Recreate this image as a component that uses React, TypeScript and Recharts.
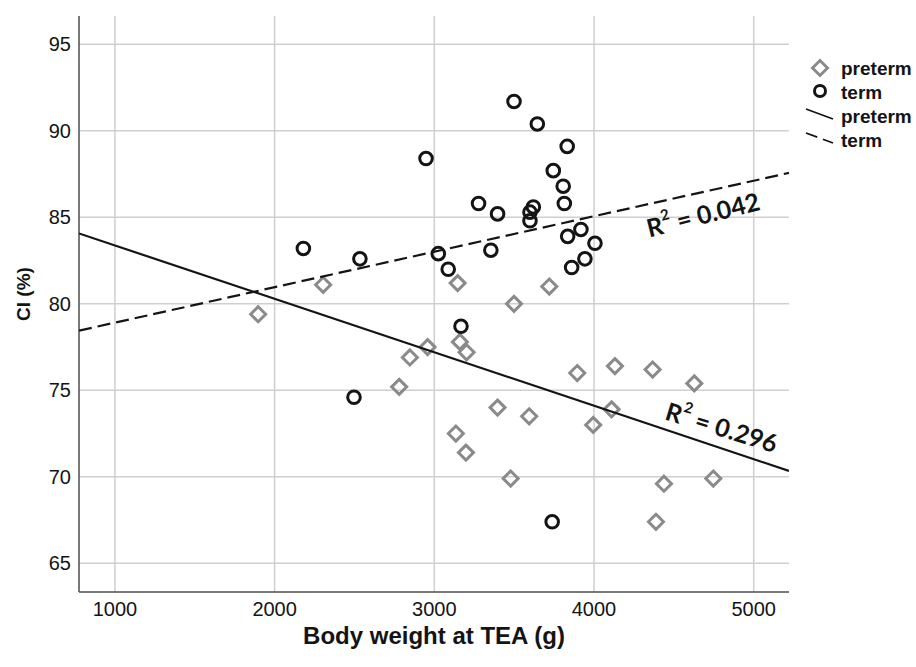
import React from 'react';
import {
  ScatterChart,
  Scatter,
  XAxis,
  YAxis,
  ReferenceLine,
  ReferenceDot
} from 'recharts';

// Body weight at TEA (g) and CI (%)
const pretermWeight = [1897, 2304, 3146, 3499, 3720, 2958, 2847, 3160, 3202, 2780, 3895, 4131, 3396, 3594, 4110, 3995, 3135, 3198, 3478, 4367, 4628, 4438, 4747, 4388];
const pretermCI = [79.4, 81.1, 81.2, 80.0, 81.0, 77.5, 76.9, 77.8, 77.2, 75.2, 76.0, 76.4, 74.0, 73.5, 73.9, 73.0, 72.5, 71.4, 69.9, 76.2, 75.4, 69.6, 69.9, 67.4];

const termWeight = [2180, 2534, 2948, 3499, 3645, 3832, 3745, 3807, 3814, 3277, 3396, 3620, 3599, 3599, 3918, 3835, 4006, 3943, 3860, 3354, 3025, 3087, 3167, 2497, 3738];
const termCI = [83.2, 82.6, 88.4, 91.7, 90.4, 89.1, 87.7, 86.8, 85.8, 85.8, 85.2, 85.6, 85.3, 84.8, 84.3, 83.9, 83.5, 82.6, 82.1, 83.1, 82.9, 82.0, 78.7, 74.6, 67.4];

// linear fit lines, end points at the plot edges
const fitWeight = [775, 5221];
const pretermFitCI = [84.07, 70.34];
const termFitCI = [78.45, 87.57];

const xTicks = [1000, 2000, 3000, 4000, 5000];
const yTicks = [65, 70, 75, 80, 85, 90, 95];

const legendItems = [
  { label: 'preterm', kind: 'diamond' },
  { label: 'term', kind: 'circle' },
  { label: 'preterm', kind: 'solid' },
  { label: 'term', kind: 'dashed' }
];

const toPoints = (xs: number[], ys: number[]) => xs.map((x, i) => ({ x, y: ys[i] }));

const pretermData = toPoints(pretermWeight, pretermCI);
const termData = toPoints(termWeight, termCI);
const pretermFit = toPoints(fitWeight, pretermFitCI);
const termFit = toPoints(fitWeight, termFitCI);

const GREY = '#8a8a8a';
const INK = '#141414';
const GRID = '#cfcfcf';
const AXIS_FONT = '"Liberation Sans", Arial, sans-serif';

const Diamond = (props: any) => {
  const { cx, cy } = props;
  const s = 7.5;
  return (
    <polygon
      points={`${cx},${cy - s} ${cx + s},${cy} ${cx},${cy + s} ${cx - s},${cy}`}
      fill="none"
      stroke={GREY}
      strokeWidth={3}
    />
  );
};

const Ring = (props: any) => (
  <circle cx={props.cx} cy={props.cy} r={6.3} fill="none" stroke={INK} strokeWidth={3} />
);

const NoDot = () => <g />;

const RLabel = ({ cx, cy, angle, text }: any) => (
  <text
    x={cx}
    y={cy}
    transform={`rotate(${angle} ${cx} ${cy})`}
    textAnchor="middle"
    dominantBaseline="central"
    fontFamily="Lato, 'Open Sans', sans-serif"
    fontWeight={700}
    fontSize={25}
    fill={INK}
  >
    R<tspan dy={-9} fontSize={15}>2</tspan>
    <tspan dy={9}>{' = ' + text}</tspan>
  </text>
);

const LegendBox = () => (
  <svg width={116} height={110} style={{ position: 'absolute', left: 800, top: 52 }}>
    {legendItems.map((item, i) => {
      const y = 16 + i * 24;
      let symbol: React.ReactNode = null;
      if (item.kind === 'diamond') symbol = <Diamond cx={20} cy={y} />;
      if (item.kind === 'circle') symbol = <circle cx={20} cy={y - 1} r={5.5} fill="none" stroke={INK} strokeWidth={3} />;
      if (item.kind === 'solid') symbol = <line x1={6} y1={y - 7} x2={33} y2={y + 3} stroke={INK} strokeWidth={1.8} />;
      if (item.kind === 'dashed') symbol = <line x1={6} y1={y - 7} x2={33} y2={y + 3} stroke={INK} strokeWidth={1.8} strokeDasharray="12 6" />;
      return (
        <g key={i}>
          {symbol}
          <text x={41} y={y} dominantBaseline="central" fontFamily={AXIS_FONT} fontWeight={700} fontSize={19} fill={INK}>
            {item.label}
          </text>
        </g>
      );
    })}
  </svg>
);

export default function App() {
  return (
    <div style={{ position: 'absolute', left: 0, top: 0, width: 916, height: 667, background: '#fff' }}>
      <ScatterChart width={916} height={667} margin={{ top: 16, right: 127, bottom: 35, left: 39 }}>
        <XAxis
          type="number"
          dataKey="x"
          domain={[775, 5221]}
          ticks={xTicks}
          allowDataOverflow
          height={40}
          tickLine={false}
          tickMargin={4}
          axisLine={{ stroke: '#4d4d4d', strokeWidth: 1.5 }}
          tick={{ fill: INK, fontSize: 20, fontFamily: AXIS_FONT }}
        />
        <YAxis
          type="number"
          dataKey="y"
          domain={[63.34, 96.64]}
          ticks={yTicks}
          allowDataOverflow
          width={40}
          tickLine={false}
          axisLine={{ stroke: '#4d4d4d', strokeWidth: 1.5 }}
          tick={{ fill: INK, fontSize: 20, fontFamily: AXIS_FONT }}
        />
        {xTicks.map((t) => (
          <ReferenceLine key={'vx' + t} x={t} stroke={GRID} strokeWidth={1.5} />
        ))}
        {yTicks.map((t) => (
          <ReferenceLine key={'hy' + t} y={t} stroke={GRID} strokeWidth={1.5} />
        ))}
        <Scatter name="preterm" data={pretermData} shape={Diamond} isAnimationActive={false} />
        <Scatter name="term" data={termData} shape={Ring} isAnimationActive={false} />
        <Scatter
          name="preterm fit"
          data={pretermFit}
          shape={NoDot}
          line={{ stroke: INK, strokeWidth: 2.2 }}
          isAnimationActive={false}
        />
        <Scatter
          name="term fit"
          data={termFit}
          shape={NoDot}
          line={{ stroke: INK, strokeWidth: 2.2, strokeDasharray: '13 6' }}
          isAnimationActive={false}
        />
        <ReferenceDot x={4682} y={85.2} r={0} shape={(p: any) => <RLabel cx={p.cx} cy={p.cy} angle={-14} text="0.042" />} />
        <ReferenceDot x={4801} y={72.9} r={0} shape={(p: any) => <RLabel cx={p.cx} cy={p.cy} angle={17} text="0.296" />} />
      </ScatterChart>
      <LegendBox />
      <div
        style={{
          position: 'absolute',
          left: 0,
          width: 868,
          top: 623,
          textAlign: 'center',
          fontFamily: AXIS_FONT,
          fontWeight: 700,
          fontSize: 24,
          lineHeight: '26px',
          color: INK
        }}
      >
        Body weight at TEA (g)
      </div>
      <div
        style={{
          position: 'absolute',
          left: -26,
          top: 282,
          width: 100,
          height: 24,
          lineHeight: '24px',
          textAlign: 'center',
          transform: 'rotate(-90deg)',
          fontFamily: AXIS_FONT,
          fontWeight: 700,
          fontSize: 19,
          color: INK
        }}
      >
        CI (%)
      </div>
    </div>
  );
}
